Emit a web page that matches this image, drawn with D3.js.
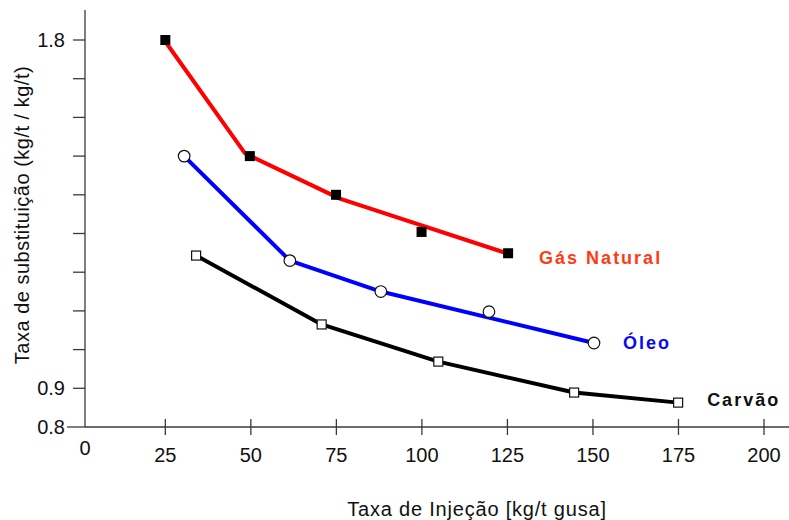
<!DOCTYPE html>
<html>
<head>
<meta charset="utf-8">
<script src="https://cdn.jsdelivr.net/npm/d3@7"></script>
<style>
  html, body { margin: 0; padding: 0; background: #fff; }
  svg { display: block; font-family: "Liberation Sans", Arial, sans-serif; }
</style>
</head>
<body>
<svg id="chart" width="789" height="520"></svg>
<script>
// ---- data ----
const xTicks = [25, 50, 75, 100, 125, 150, 175, 200];
const yTicks = [0.8, 0.9, 1.0, 1.1, 1.2, 1.3, 1.4, 1.5, 1.6, 1.7, 1.8];
const yTickLabels = ["0.8", "0.9", "", "", "", "", "", "", "", "", "1.8"];

const gasX = [25, 49.7, 74.9, 99.9, 125.2];
const gasY = [1.80, 1.50, 1.40, 1.304, 1.249];
const gasLineX = [25.4, 48.3, 76.0, 124.8];
const gasLineY = [1.791, 1.507, 1.390, 1.249];

const oleoX = [30.5, 61.4, 88.0, 119.6, 150.3];
const oleoY = [1.50, 1.230, 1.150, 1.098, 1.017];
const oleoLineX = [30.5, 61.4, 88.0, 150.3];
const oleoLineY = [1.50, 1.230, 1.150, 1.017];

const carvaoX = [34.0, 70.7, 104.8, 144.5, 174.9];
const carvaoY = [1.243, 1.065, 0.969, 0.889, 0.863];

const seriesNames = ["Gás Natural", "Óleo", "Carvão"];

// ---- chart ----
const svg = d3.select("#chart");
const x = d3.scaleLinear().domain([0, 200]).range([79.8, 764]);
const y = d3.scaleLinear().domain([0.8, 1.8]).range([427, 40]);
const axisX0 = 85;
const axisCol = "#3a3a3a";

// y axis line
svg.append("line").attr("x1", axisX0).attr("x2", axisX0).attr("y1", 10).attr("y2", y(0.8))
  .attr("stroke", axisCol).attr("stroke-width", 1.3);
// x axis line
svg.append("line").attr("x1", axisX0).attr("x2", 789).attr("y1", y(0.8)).attr("y2", y(0.8))
  .attr("stroke", axisCol).attr("stroke-width", 1.3);

// y ticks
const yt = svg.append("g");
yt.selectAll("line").data(yTicks).join("line")
  .attr("x1", (d, i) => i === 0 ? 67 : 73).attr("x2", axisX0)
  .attr("y1", d => y(d)).attr("y2", d => y(d))
  .attr("stroke", axisCol).attr("stroke-width", 1.3);
yt.selectAll("text").data(yTicks).join("text")
  .attr("x", 65).attr("y", d => y(d)).attr("dy", "0.35em")
  .attr("text-anchor", "end").attr("font-size", 20).attr("fill", "#111")
  .text((d, i) => yTickLabels[i]);

// x ticks
const xt = svg.append("g");
xt.selectAll("line").data(xTicks).join("line")
  .attr("x1", d => x(d)).attr("x2", d => x(d))
  .attr("y1", y(0.8) - 8).attr("y2", y(0.8) + 8)
  .attr("stroke", axisCol).attr("stroke-width", 1.3);
xt.selectAll("text").data(xTicks).join("text")
  .attr("x", d => x(d)).attr("y", 462)
  .attr("text-anchor", "middle").attr("font-size", 20).attr("fill", "#111")
  .text(d => d);
svg.append("text").attr("x", axisX0).attr("y", 455)
  .attr("text-anchor", "middle").attr("font-size", 20).attr("fill", "#111").text("0");

// axis titles
svg.append("text").attr("x", 477).attr("y", 516)
  .attr("text-anchor", "middle").attr("font-size", 20).attr("letter-spacing", 0.8)
  .attr("fill", "#111").text("Taxa de Injeção [kg/t gusa]");
svg.append("text").attr("transform", "translate(29,215) rotate(-90)")
  .attr("text-anchor", "middle").attr("font-size", 20).attr("letter-spacing", 0.5)
  .attr("fill", "#111").text("Taxa de substituição (kg/t / kg/t)");

// lines
const line = d3.line().x(d => x(d[0])).y(d => y(d[1]));
const zip = (a, b) => a.map((v, i) => [v, b[i]]);
svg.append("path").datum(zip(gasLineX, gasLineY)).attr("d", line)
  .attr("fill", "none").attr("stroke", "#ff0000").attr("stroke-width", 4).attr("stroke-linejoin", "round");
svg.append("path").datum(zip(oleoLineX, oleoLineY)).attr("d", line)
  .attr("fill", "none").attr("stroke", "#0000ff").attr("stroke-width", 4).attr("stroke-linejoin", "round");
svg.append("path").datum(zip(carvaoX, carvaoY)).attr("d", line)
  .attr("fill", "none").attr("stroke", "#000").attr("stroke-width", 4).attr("stroke-linejoin", "round");

// markers
svg.append("g").selectAll("rect").data(zip(gasX, gasY)).join("rect")
  .attr("x", d => x(d[0]) - 5).attr("y", d => y(d[1]) - 5)
  .attr("width", 10).attr("height", 10).attr("fill", "#000");
svg.append("g").selectAll("circle").data(zip(oleoX, oleoY)).join("circle")
  .attr("cx", d => x(d[0])).attr("cy", d => y(d[1])).attr("r", 5.8)
  .attr("fill", "#fff").attr("stroke", "#111").attr("stroke-width", 1.2);
svg.append("g").selectAll("rect").data(zip(carvaoX, carvaoY)).join("rect")
  .attr("x", d => x(d[0]) - 4.5).attr("y", d => y(d[1]) - 4.5)
  .attr("width", 9).attr("height", 9).attr("fill", "#fff").attr("stroke", "#111").attr("stroke-width", 1.2);

// series labels
const lbl = [
  { name: seriesNames[0], xs: gasX, ys: gasY, dx: 31, dy: 11, color: "#ff3b14" },
  { name: seriesNames[1], xs: oleoX, ys: oleoY, dx: 29, dy: 6, color: "#0a0af0" },
  { name: seriesNames[2], xs: carvaoX, ys: carvaoY, dx: 29, dy: 3, color: "#111" }
];
svg.append("g").selectAll("text").data(lbl).join("text")
  .attr("x", d => x(d.xs[d.xs.length - 1]) + d.dx)
  .attr("y", d => y(d.ys[d.ys.length - 1]) + d.dy)
  .attr("font-size", 18).attr("font-weight", "bold").attr("letter-spacing", 2)
  .attr("fill", d => d.color).text(d => d.name);
</script>
</body>
</html>
